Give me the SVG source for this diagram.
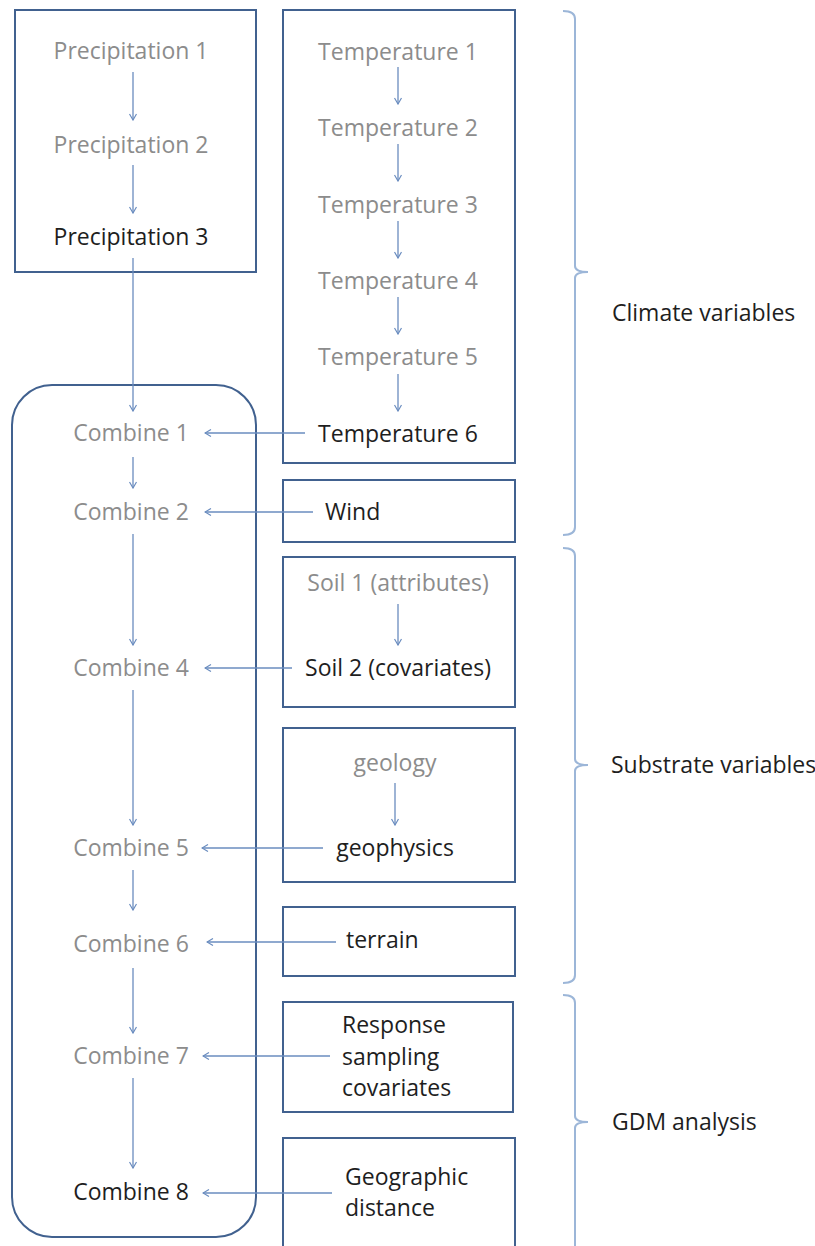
<svg xmlns="http://www.w3.org/2000/svg" width="815" height="1246" viewBox="0 0 815 1246">
<defs>
<marker id="ah" viewBox="0 0 8 8" refX="7" refY="4" markerWidth="8" markerHeight="8" markerUnits="userSpaceOnUse" orient="auto">
<path d="M1,0.5 L7,4 L1,7.5" fill="none" stroke="#6a8cbf" stroke-width="1.2"/>
</marker>
<style>
.box{fill:none;stroke:#41618f;stroke-width:2}
.t{font-family:"Open Sans","Liberation Sans",sans-serif;font-size:23px}
.g{fill:#8c8c8c}
.k{fill:#1e1e1e}
.c{text-anchor:middle}
.ln{stroke:#6a8cbf;stroke-width:1.3;fill:none;marker-end:url(#ah)}
.br{stroke:#9cb6d8;stroke-width:2;fill:none}
</style>
</defs>
<rect width="815" height="1246" fill="#ffffff"/>

<g id="precipitation">
<rect class="box" x="15" y="10" width="241" height="262"/>
<text class="t g c" x="131" y="59">Precipitation 1</text>
<text class="t g c" x="131" y="153">Precipitation 2</text>
<text class="t k c" x="131" y="245">Precipitation 3</text>
</g>

<g id="temperature">
<rect class="box" x="283" y="10" width="232" height="453"/>
<text class="t g c" x="398" y="60">Temperature 1</text>
<text class="t g c" x="398" y="136">Temperature 2</text>
<text class="t g c" x="398" y="213">Temperature 3</text>
<text class="t g c" x="398" y="289">Temperature 4</text>
<text class="t g c" x="398" y="365">Temperature 5</text>
<text class="t k c" x="398" y="442">Temperature 6</text>
</g>

<g id="wind">
<rect class="box" x="283" y="480" width="232" height="62"/>
<text class="t k" x="325" y="520">Wind</text>
</g>

<g id="soil">
<rect class="box" x="283" y="557" width="232" height="150"/>
<text class="t g c" x="398" y="591">Soil 1 (attributes)</text>
<text class="t k c" x="398" y="676">Soil 2 (covariates)</text>
</g>

<g id="geology">
<rect class="box" x="283" y="728" width="232" height="154"/>
<text class="t g c" x="395" y="771">geology</text>
<text class="t k c" x="395" y="856">geophysics</text>
</g>

<g id="terrain">
<rect class="box" x="283" y="907" width="232" height="69"/>
<text class="t k" x="346" y="948">terrain</text>
</g>

<g id="response">
<rect class="box" x="283" y="1002" width="230" height="110"/>
<text class="t k" x="342" y="1033">Response</text>
<text class="t k" x="342" y="1065">sampling</text>
<text class="t k" x="342" y="1096">covariates</text>
</g>

<g id="geographic">
<rect class="box" x="283" y="1138" width="232" height="120"/>
<text class="t k" x="345" y="1185">Geographic</text>
<text class="t k" x="345" y="1216">distance</text>
</g>

<g id="combine">
<rect class="box" x="12" y="385" width="244" height="852" rx="40" ry="40"/>
<text class="t g c" x="131" y="441">Combine 1</text>
<text class="t g c" x="131" y="520">Combine 2</text>
<text class="t g c" x="131" y="676">Combine 4</text>
<text class="t g c" x="131" y="856">Combine 5</text>
<text class="t g c" x="131" y="952">Combine 6</text>
<text class="t g c" x="131" y="1064">Combine 7</text>
<text class="t k c" x="131" y="1200">Combine 8</text>
</g>

<g id="connectors">
<line class="ln" x1="133" y1="72" x2="133" y2="120"/>
<line class="ln" x1="133" y1="165" x2="133" y2="213"/>
<line class="ln" x1="133" y1="258" x2="133" y2="411"/>

<line class="ln" x1="398" y1="67" x2="398" y2="104"/>
<line class="ln" x1="398" y1="144" x2="398" y2="181"/>
<line class="ln" x1="398" y1="221" x2="398" y2="258"/>
<line class="ln" x1="398" y1="297" x2="398" y2="334"/>
<line class="ln" x1="398" y1="374" x2="398" y2="411"/>

<line class="ln" x1="133" y1="457" x2="133" y2="488"/>
<line class="ln" x1="133" y1="534" x2="133" y2="645"/>
<line class="ln" x1="133" y1="690" x2="133" y2="825"/>
<line class="ln" x1="133" y1="870" x2="133" y2="910"/>
<line class="ln" x1="133" y1="968" x2="133" y2="1033"/>
<line class="ln" x1="133" y1="1078" x2="133" y2="1168"/>

<line class="ln" x1="398" y1="604" x2="398" y2="645"/>
<line class="ln" x1="395" y1="783" x2="395" y2="825"/>

<line class="ln" x1="305" y1="433" x2="205" y2="433"/>
<line class="ln" x1="313" y1="512" x2="205" y2="512"/>
<line class="ln" x1="292" y1="668" x2="205" y2="668"/>
<line class="ln" x1="323" y1="848" x2="202" y2="848"/>
<line class="ln" x1="336" y1="942" x2="207" y2="942"/>
<line class="ln" x1="330" y1="1056" x2="203" y2="1056"/>
<line class="ln" x1="332" y1="1193" x2="203" y2="1193"/>
</g>

<g id="climate-brace">
<path class="br" d="M563,11 Q575,11 575,19 L575,266 Q575,272 588,272 Q575,272 575,278 L575,527 Q575,535 563,535"/>
<text class="t k" x="612" y="321">Climate variables</text>
</g>
<g id="substrate-brace">
<path class="br" d="M563,548 Q575,548 575,556 L575,759 Q575,765 588,765 Q575,765 575,771 L575,975 Q575,983 563,983"/>
<text class="t k" x="611" y="773">Substrate variables</text>
</g>
<g id="gdm-brace">
<path class="br" d="M563,995 Q575,995 575,1003 L575,1116 Q575,1122 588,1122 Q575,1122 575,1128 L575,1250"/>
<text class="t k" x="612" y="1130">GDM analysis</text>
</g>
</svg>
